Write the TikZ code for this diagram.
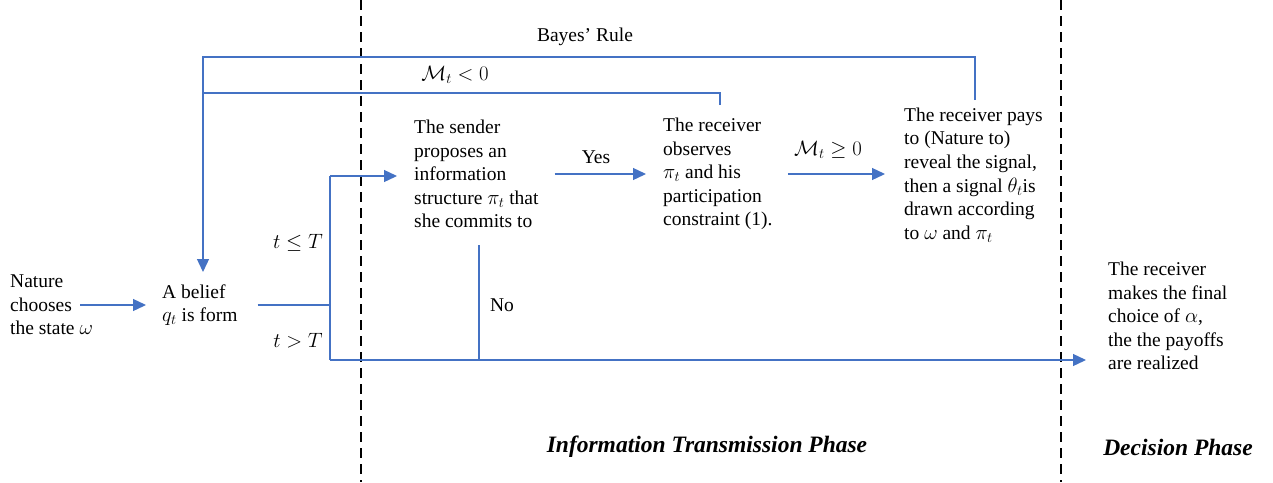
\documentclass[tikz,border=0pt]{standalone}
\usepackage{fontspec}
\setmainfont{Liberation Serif}
\usetikzlibrary{arrows.meta}
\definecolor{arrblue}{HTML}{4472C4}
\tikzset{
  txt/.style={font=\fontsize{19.5}{23.6}\selectfont, align=left, inner sep=0pt, anchor=west},
  lbl/.style={font=\fontsize{19.5}{23.6}\selectfont, inner sep=0pt},
  phase/.style={font=\fontsize{23.5}{27}\selectfont\bfseries\itshape, inner sep=0pt},
  ln/.style={draw=arrblue, line width=1.3pt},
  arr/.style={ln, -{Triangle[length=13pt,width=12pt]}},
  dashline/.style={draw=black, line width=2.4pt, dash pattern=on 10pt off 6pt}
}
\begin{document}
\begin{tikzpicture}[x=1pt,y=-1pt]
\useasboundingbox (0,0) rectangle (1273,482);
% phase separators
\coordinate (d1t) at (361,0); \coordinate (d1b) at (361,482);
\coordinate (d2t) at (1061,0); \coordinate (d2b) at (1061,482);
\draw[dashline] (d1t) -- (d1b);
\draw[dashline] (d2t) -- (d2b);
% nodes
\node[txt] (nat) at (10,305) {Nature\\chooses\\the state $\omega$};
\node[txt] (bel) at (162,305) {A belief\\$q_t$ is form};
\node[txt] (snd) at (414,174) {The sender\\proposes an\\information\\structure $\pi_t$ that\\she commits to};
\node[txt] (obs) at (663,174) {The receiver\\observes\\$\pi_t$ and his\\participation\\constraint (1).};
\node[txt] (pay) at (904,175) {The receiver pays\\to (Nature to)\\reveal the signal,\\then a signal $\theta_t$is\\drawn according\\to $\omega$ and $\pi_t$};
\node[txt] (fin) at (1108,316) {The receiver\\makes the final\\choice of $\alpha$,\\the the payoffs\\are realized};
% labels
\node[lbl] (bayes) at (585,37) {Bayes’ Rule};
\node[lbl] (mneg) at (455,75) {$\mathcal{M}_t<0$};
\node[lbl] (yes) at (596,157) {Yes};
\node[lbl] (mpos) at (828,150) {$\mathcal{M}_t\geq 0$};
\node[lbl] (tle) at (298,243) {$t\leq T$};
\node[lbl] (tgt) at (298,341) {$t>T$};
\node[lbl] (no) at (502,305) {No};
\node[phase] (ph1) at (707,447) {Information Transmission Phase};
\node[phase] (ph2) at (1178,447) {Decision Phase};
% junction coordinates
\coordinate (na) at (80,305);
\coordinate (j1) at (330,305);
\coordinate (jt) at (330,176);
\coordinate (jb) at (330,360);
\coordinate (eb) at (1086,360);
\coordinate (no1) at (479,245);
\coordinate (no2) at (479,360);
\coordinate (ob1) at (975,100);
\coordinate (ob2) at (975,57);
\coordinate (ob3) at (203,57);
\coordinate (ib1) at (720,105);
\coordinate (ib2) at (720,93);
\coordinate (ib3) at (203,93);
\coordinate (bt) at (203,272);
% connectors
\draw[arr, shorten >=16pt] (na) -- (bel.west);
\draw[ln, shorten <=20pt] (bel.east) -- (j1);
\draw[ln] (jt) -- (jb);
\draw[arr, shorten >=17pt] (jt) -- (snd.west |- jt);
\draw[arr] (jb) -- (eb);
\draw[ln] (no1) -- (no2);
\draw[arr, shorten <=16pt, shorten >=17pt] (snd.east |- snd) -- (obs.west);
\draw[arr, shorten <=15pt, shorten >=19pt] (obs.east) -- (pay.west |- obs);
\draw[ln] (ob1) -- (ob2) -- (ob3) -- (ib3);
\draw[arr] (ib3) -- (bt);
\draw[ln] (ib1) -- (ib2) -- (ib3);
\end{tikzpicture}
\end{document}
